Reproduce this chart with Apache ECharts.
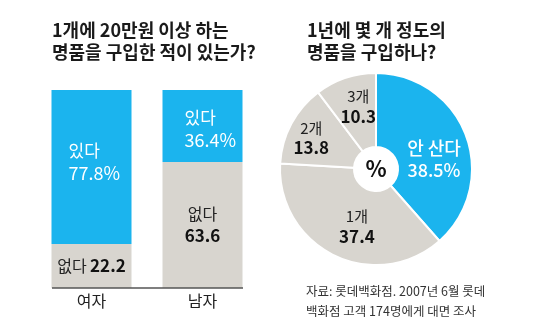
<!DOCTYPE html>
<html>
<head>
<meta charset="utf-8">
<script src="https://cdn.jsdelivr.net/npm/echarts@6/dist/echarts.min.js"></script>
<style>
html,body{margin:0;padding:0;background:#fff;}
#c{width:536px;height:328px;}
</style>
</head>
<body>
<div id="c"></div>
<script>
// ---- data ----
const categories = ['여자', '남자'];
const yesValues = [77.8, 36.4];
const noValues = [22.2, 63.6];
const yesName = '있다';
const noName = '없다';
const pieNames = ['안 산다', '1개', '2개', '3개'];
const pieValues = [38.5, 37.4, 13.8, 10.3];
const leftTitle = '1개에 20만원 이상 하는\n명품을 구입한 적이 있는가?';
const rightTitle = '1년에 몇 개 정도의\n명품을 구입하나?';
const sourceText = '자료: 롯데백화점. 2007년 6월 롯데\n백화점 고객 174명에게 대면 조사';
const centerText = '%';

// ---- style ----
const FF = "'Noto Sans CJK KR',sans-serif";
const BLUE = '#1bb4ee';
const GRAY = '#d8d5cf';
const yesLabelPos = [[17, 50], [22, 17]];
const noLabelInline = [true, false];
const pieLabelOffset = [[0, 12], [8, 2], [-10, -2], [2, -4]];

const yesData = yesValues.map((v, i) => ({
  value: v,
  label: {
    show: true,
    position: yesLabelPos[i],
    align: 'left',
    verticalAlign: 'top',
    formatter: '{n|' + yesName + '}\n{v|' + v + '%}',
    rich: {
      n: { fontFamily: FF, fontSize: 17, color: '#fff', lineHeight: 22 },
      v: { fontFamily: FF, fontSize: 18, color: '#fff', lineHeight: 22 }
    }
  }
}));
const noData = noValues.map((v, i) => ({
  value: v,
  label: {
    show: true,
    position: 'inside',
    formatter: '{n|' + noName + '}' + (noLabelInline[i] ? ' ' : '\n') + '{b|' + v + '}',
    rich: {
      n: { fontFamily: FF, fontSize: 16, color: '#222', lineHeight: 22 },
      b: { fontFamily: FF, fontSize: 17, fontWeight: 'bold', color: '#111', lineHeight: 22 }
    }
  }
}));

const pieData = pieNames.map((n, i) => ({
  name: n,
  value: pieValues[i],
  itemStyle: { color: i === 0 ? BLUE : GRAY },
  label: {
    offset: pieLabelOffset[i],
    formatter: i === 0 ? '{w|{b}}\n{w|{c}%}' : '{a|{b}}\n{k|{c}}'
  }
}));

const chart = echarts.init(document.getElementById('c'), null, { renderer: 'canvas' });
chart.setOption({
  backgroundColor: '#fff',
  animation: false,
  title: [
    { text: leftTitle, left: 47, top: 14,
      textStyle: { fontFamily: FF, fontSize: 18, fontWeight: 'bold', color: '#1a1a1a', lineHeight: 22 } },
    { text: rightTitle, left: 302, top: 14,
      textStyle: { fontFamily: FF, fontSize: 18, fontWeight: 'bold', color: '#1a1a1a', lineHeight: 22 } },
    { text: sourceText, left: 301, top: 276,
      textStyle: { fontFamily: FF, fontSize: 12.5, fontWeight: 'normal', color: '#333', lineHeight: 20 } }
  ],
  grid: { left: 36, right: 278, top: 90, bottom: 40 },
  xAxis: {
    type: 'category',
    data: categories,
    axisLine: { show: false },
    axisTick: { show: false },
    axisLabel: { fontFamily: FF, fontSize: 16, color: '#222', margin: 5 }
  },
  yAxis: { type: 'value', min: 0, max: 100, show: false },
  series: [
    { type: 'bar', stack: 's', barWidth: 80, data: noData, itemStyle: { color: GRAY } },
    { type: 'bar', stack: 's', barWidth: 80, data: yesData, itemStyle: { color: BLUE } },
    {
      type: 'pie',
      center: [376, 169],
      radius: [22, 96],
      startAngle: 90,
      clockwise: true,
      avoidLabelOverlap: false,
      itemStyle: { borderColor: '#fff', borderWidth: 2 },
      label: {
        show: true,
        position: 'inside',
        rich: {
          w: { fontFamily: FF, fontSize: 18, fontWeight: 500, color: '#fff', lineHeight: 22 },
          a: { fontFamily: FF, fontSize: 15, color: '#222', lineHeight: 20 },
          k: { fontFamily: FF, fontSize: 17, fontWeight: 'bold', color: '#111', lineHeight: 20 }
        }
      },
      labelLine: { show: false },
      emphasis: { disabled: true },
      data: pieData
    }
  ],
  graphic: [
    { type: 'line', z: 100, shape: { x1: 52, y1: 288, x2: 243, y2: 288 },
      style: { stroke: '#555', lineWidth: 1.5 } },
    { type: 'text', z: 100, x: 376, y: 169,
      style: { text: centerText, fontFamily: FF, fontSize: 22, fontWeight: 'bold', fill: '#111',
        textAlign: 'center', textVerticalAlign: 'middle' } }
  ]
});
</script>
</body>
</html>
